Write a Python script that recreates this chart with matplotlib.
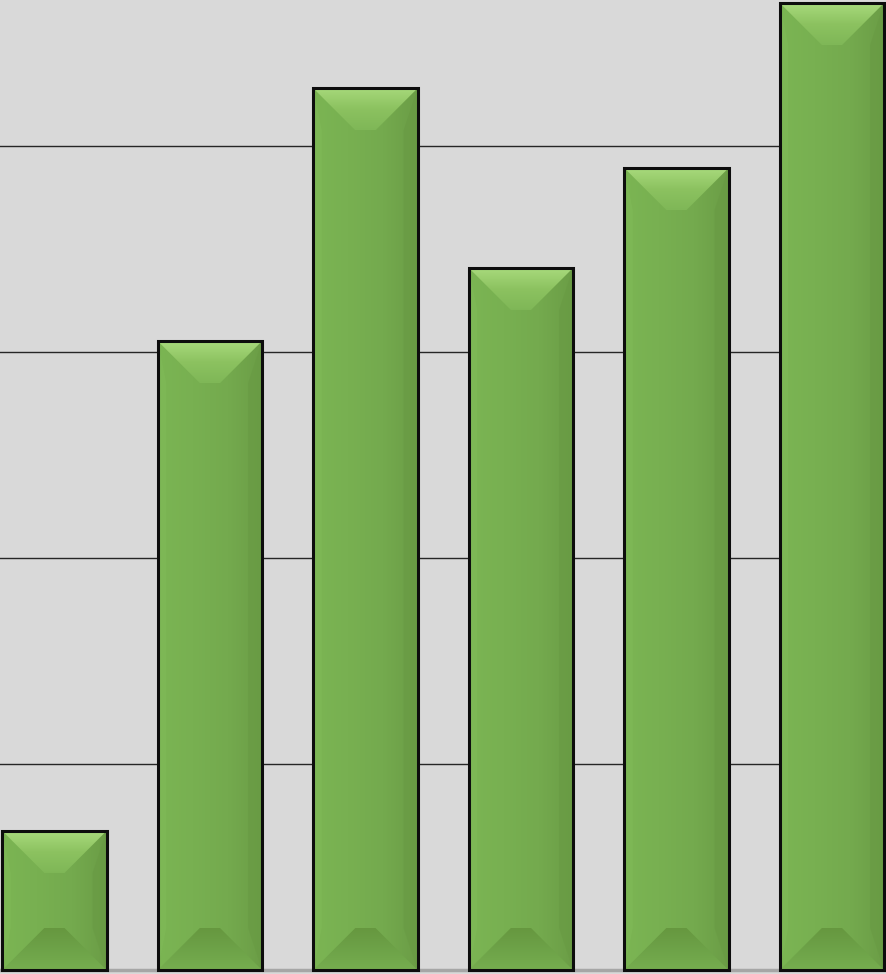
import numpy as np
import matplotlib
matplotlib.use("Agg")
import matplotlib.pyplot as plt
from matplotlib.patches import Polygon
from matplotlib.colors import LinearSegmentedColormap

categories = ["A", "B", "C", "D", "E", "F"]
values = [0.675, 3.053, 4.28, 3.408, 3.893, 4.694]

fig = plt.figure(figsize=(8.87, 9.74), dpi=100)
ax = fig.add_axes([0, 0, 1, 1])
ax.set_facecolor("#d9d9d9")
fig.patch.set_facecolor("#d9d9d9")
ax.set_xlim(-0.35, 5.354)
ax.set_ylim(-4 / 206, 970 / 206)
ax.set_yticks([1, 2, 3, 4])
ax.grid(axis="y", color="#262626", linewidth=1.0, zorder=0)
ax.set_axisbelow(True)
ax.tick_params(left=False, bottom=False, labelleft=False, labelbottom=False)
for s in ax.spines.values():
    s.set_visible(False)
ax.axhline(0, color="#a6a6a6", linewidth=2.5, zorder=1)

x = np.arange(len(categories))
width = 0.67
bars = ax.bar(x, values, width=width, color="#77ae50", edgecolor="none", zorder=2)

fig.canvas.draw()
# convert pixel bevel size to data units
px_to_x = (ax.get_xlim()[1] - ax.get_xlim()[0]) / (ax.bbox.width)
px_to_y = (ax.get_ylim()[1] - ax.get_ylim()[0]) / (ax.bbox.height)
bev_px = 42
side_px = 14

face_cmap = LinearSegmentedColormap.from_list("face", ["#7bb553", "#78b051", "#74aa4e", "#6b9d46"])
top_cmap = LinearSegmentedColormap.from_list("top", ["#a8da7c", "#8cc260", "#7fb757"])
bot_cmap = LinearSegmentedColormap.from_list("bot", ["#76ad4f", "#6da248", "#66973f"])

def grad_fill(poly_pts, extent, cmap, horizontal=True, zorder=3):
    poly = Polygon(poly_pts, closed=True, facecolor="none", edgecolor="none")
    ax.add_patch(poly)
    if horizontal:
        g = np.linspace(0, 1, 256).reshape(1, -1)
    else:
        g = np.linspace(1, 0, 256).reshape(-1, 1)
    im = ax.imshow(g, cmap=cmap, extent=extent, aspect="auto", origin="upper",
                   zorder=zorder, interpolation="bilinear")
    im.set_clip_path(poly)

for b in bars:
    x0 = b.get_x()
    x1 = x0 + b.get_width()
    h = b.get_height()
    bx = bev_px * px_to_x
    by = min(bev_px * px_to_y, h / 2.2)
    bx = min(bx, by / px_to_y * px_to_x)
    sx = side_px * px_to_x
    # face
    grad_fill([(x0, 0), (x1, 0), (x1, h), (x0, h)], (x0, x1, 0, h), face_cmap, True, 3)
    # right darker side strip
    ax.add_patch(Polygon([(x1 - sx, by), (x1, 0), (x1, h), (x1 - sx, h - by)],
                         closed=True, facecolor="#689a43", edgecolor="none", alpha=0.6, zorder=4))
    # left lighter strip
    ax.add_patch(Polygon([(x0, 0), (x0 + sx * 0.6, by), (x0 + sx * 0.6, h - by), (x0, h)],
                         closed=True, facecolor="#80ba58", edgecolor="none", alpha=0.6, zorder=4))
    # top bevel (gradient vertical: light at top)
    grad_fill([(x0, h), (x1, h), (x1 - bx, h - by), (x0 + bx, h - by)],
              (x0, x1, h - by, h), top_cmap.reversed(), False, 5)
    # bottom bevel
    grad_fill([(x0, 0), (x1, 0), (x1 - bx, by), (x0 + bx, by)],
              (x0, x1, 0, by), bot_cmap, False, 5)
    # outline
    ax.add_patch(Polygon([(x0, 0), (x1, 0), (x1, h), (x0, h)], closed=True,
                         facecolor="none", edgecolor="#0d0d0d", linewidth=2.2, zorder=6))

fig.savefig("out.png", dpi=100, facecolor=fig.get_facecolor())
